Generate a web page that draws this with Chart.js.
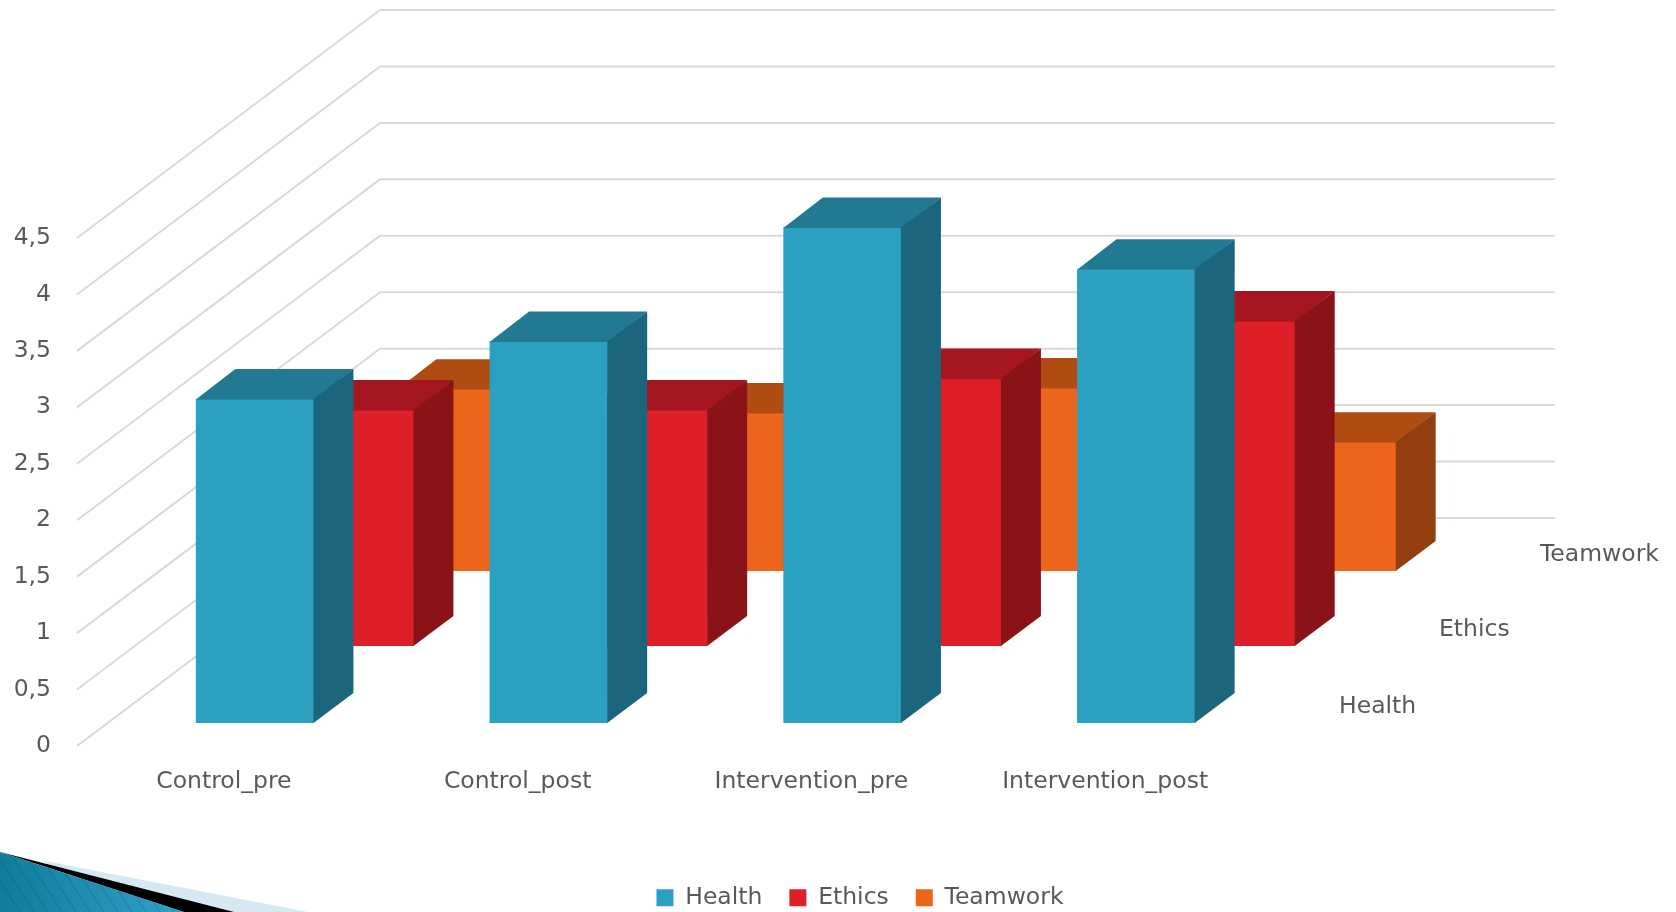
<!DOCTYPE html>
<html>
<head>
<meta charset="utf-8">
<title>Health, Ethics, Teamwork</title>
<script src="https://cdn.jsdelivr.net/npm/chart.js@4/dist/chart.umd.min.js"></script>
<style>
    html, body { margin: 0; padding: 0; background: #fff; overflow: hidden; }
    canvas { display: block; }
</style>
</head>
<body>
<canvas id="grafico" width="1676" height="912"></canvas>
<script>
// Data
const categories = ['Control_pre', 'Control_post', 'Intervention_pre', 'Intervention_post'];
const yTicks = [0, 0.5, 1, 1.5, 2, 2.5, 3, 3.5, 4, 4.5];
const healthValues = [2.87, 3.38, 4.39, 4.02];
const ethicsValues = [2.09, 2.09, 2.37, 2.88];
const teamworkValues = [1.61, 1.4, 1.62, 1.14];

// Oblique projection, in pixels
const WALL_DX = 303;
const WALL_DY = 228;
const ROW_DX = [31, 131, 232];
const ROW_DY = [23, 100, 175];
const BAR_DX = 39.5;
const BAR_DY = 30;

const FONT = { family: '"DejaVu Sans", sans-serif', size: 23.5 };
const TEXT_COLOR = '#595959';
const GRID_COLOR = '#d9d9d9';

const frontColors = ['#2ba0c0', '#de1f28', '#ed651a'];
const topColors = ['#217a92', '#a61620', '#b04c12'];
const sideColors = ['#1b667c', '#8a1317', '#923e0e'];

function poly(ctx, color, points) {
    ctx.fillStyle = color;
    ctx.beginPath();
    points.forEach((p, i) => i ? ctx.lineTo(p[0], p[1]) : ctx.moveTo(p[0], p[1]));
    ctx.closePath();
    ctx.fill();
}

// Slide theme ornament in the lower left corner
function drawOrnament(ctx) {
    poly(ctx, '#d6e8f1', [[40, 860], [308, 912], [150, 912]]);
    poly(ctx, '#000000', [[0, 852], [234, 912], [184, 912]]);

    const grad = ctx.createLinearGradient(0, 0, 190, 0);
    grad.addColorStop(0, '#0f7c9b');
    grad.addColorStop(1, '#33a3cd');
    poly(ctx, grad, [[0, 852], [184, 912], [0, 912]]);

    ctx.save();
    ctx.beginPath();
    ctx.moveTo(0, 852);
    ctx.lineTo(184, 912);
    ctx.lineTo(0, 912);
    ctx.closePath();
    ctx.clip();
    ctx.strokeStyle = 'rgba(8, 70, 95, 0.16)';
    ctx.lineWidth = 1.5;
    for (let x = -20; x < 190; x += 14) {
        ctx.beginPath();
        ctx.moveTo(x, 850);
        ctx.lineTo(x + 40, 912);
        ctx.stroke();
    }
    ctx.restore();
}

// Side wall and back wall lines, one for each y tick
function drawWalls(chart) {
    const { ctx, chartArea, scales } = chart;
    ctx.save();
    ctx.strokeStyle = GRID_COLOR;
    ctx.lineWidth = 2;
    yTicks.forEach(t => {
        const y = scales.y.getPixelForValue(t);
        ctx.beginPath();
        ctx.moveTo(chartArea.left, y);
        ctx.lineTo(chartArea.left + WALL_DX, y - WALL_DY);
        ctx.lineTo(chartArea.right + WALL_DX, y - WALL_DY);
        ctx.stroke();
    });
    ctx.restore();
}

// Labels of the depth axis, taken from the series names
function drawDepthLabels(chart) {
    const { ctx, chartArea, data } = chart;
    ctx.save();
    ctx.font = FONT.size + 'px ' + FONT.family;
    ctx.fillStyle = TEXT_COLOR;
    ctx.textBaseline = 'middle';
    data.datasets.forEach((ds, i) => {
        ctx.fillText(ds.label, chartArea.right + ROW_DX[i] + 56, chartArea.bottom - ROW_DY[i] - 16);
    });
    ctx.restore();
}

const bars3d = {
    id: 'bars3d',
    beforeDraw(chart) {
        drawOrnament(chart.ctx);
        drawWalls(chart);
        drawDepthLabels(chart);
    },
    afterLayout(chart) {
        const legend = chart.legend;
        legend.left += 234;
        legend.right += 234;
        legend.top = 859;
        legend.bottom = 912;
    },
    // each series sits on its own row of the floor
    beforeDatasetDraw(chart, args) {
        const i = args.index;
        chart.ctx.save();
        chart.ctx.translate(ROW_DX[i], -ROW_DY[i]);
    },
    afterDatasetDraw(chart, args) {
        const ctx = chart.ctx;
        const i = args.index;
        args.meta.data.forEach(bar => {
            const { x, y, base, width } = bar.getProps(['x', 'y', 'base', 'width'], true);
            const l = x - width / 2;
            const r = x + width / 2;
            poly(ctx, topColors[i], [[l, y + 0.5], [r, y + 0.5], [r + BAR_DX, y - BAR_DY], [l + BAR_DX, y - BAR_DY]]);
            // half a pixel over the front face so no seam shows
            poly(ctx, sideColors[i], [[r - 0.5, y], [r + BAR_DX, y - BAR_DY], [r + BAR_DX, base - BAR_DY], [r - 0.5, base]]);
        });
        ctx.restore();
    }
};

new Chart(document.getElementById('grafico').getContext('2d'), {
    type: 'bar',
    data: {
        labels: categories,
        datasets: [
            { label: 'Health', data: healthValues, backgroundColor: frontColors[0] },
            { label: 'Ethics', data: ethicsValues, backgroundColor: frontColors[1] },
            { label: 'Teamwork', data: teamworkValues, backgroundColor: frontColors[2] }
        ]
    },
    plugins: [bars3d],
    options: {
        responsive: false,
        animation: false,
        layout: { padding: { top: 238, right: 424, bottom: 0, left: 0 } },
        datasets: {
            bar: { grouped: false, barPercentage: 0.402, categoryPercentage: 1, borderWidth: 0, clip: false }
        },
        scales: {
            x: {
                grid: { display: false },
                border: { display: false },
                ticks: { color: TEXT_COLOR, font: FONT, padding: 14, maxRotation: 0, autoSkip: false },
                afterFit(scale) { scale.height = 166 - scale.chart.legend.height; }
            },
            y: {
                min: 0,
                max: 4.5,
                grid: { display: false },
                border: { display: false },
                ticks: {
                    color: TEXT_COLOR,
                    font: FONT,
                    padding: 18,
                    stepSize: 0.5,
                    callback: v => String(v).replace('.', ',')
                },
                afterFit(scale) { scale.width = 77; }
            }
        },
        plugins: {
            legend: {
                position: 'bottom',
                labels: { color: TEXT_COLOR, font: FONT, boxWidth: 17, boxHeight: 17, padding: 27 }
            },
            tooltip: { enabled: false }
        }
    }
});
</script>
</body>
</html>
